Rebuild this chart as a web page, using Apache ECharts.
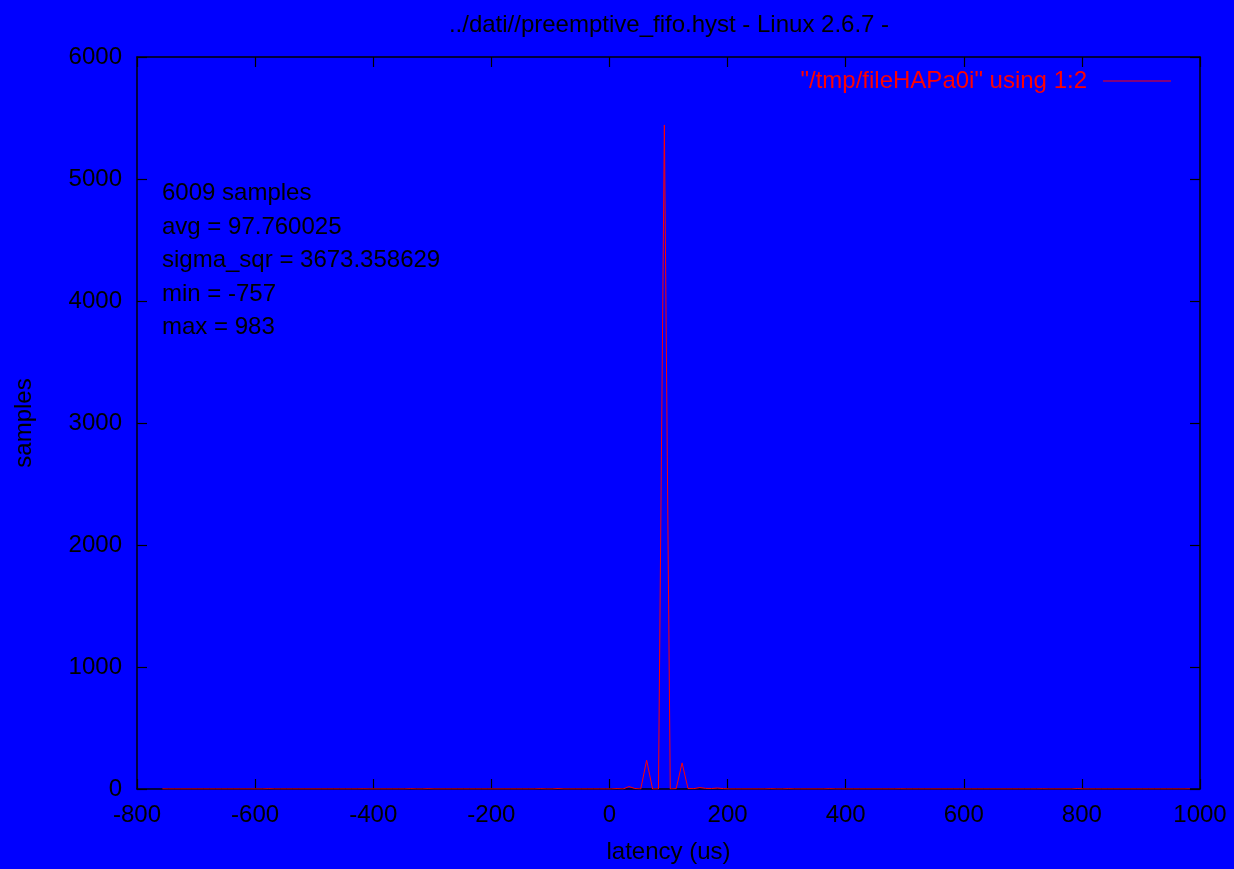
<!DOCTYPE html>
<html>
<head>
<meta charset="utf-8">
<script src="https://cdn.jsdelivr.net/npm/echarts@6/dist/echarts.min.js"></script>
<style>
html,body{margin:0;padding:0;background:#0000ff;}
#chart{width:1234px;height:869px;}
</style>
</head>
<body>
<div id="chart"></div>
<script>
const chartTitle = '../dati//preemptive_fifo.hyst - Linux 2.6.7 -';
const seriesName = '"/tmp/fileHAPa0i" using 1:2';
const statLines = ['6009 samples', 'avg = 97.760025', 'sigma_sqr = 3673.358629', 'min = -757', 'max = 983'];
const xLabel = 'latency (us)';
const yLabel = 'samples';

const latency = [
-757,-747,-737,-727,-717,-707,-697,-687,-677,-667,
-657,-647,-637,-627,-617,-607,-597,-587,-577,-567,
-557,-547,-537,-527,-517,-507,-497,-487,-477,-467,
-457,-447,-437,-427,-417,-407,-397,-387,-377,-367,
-357,-347,-337,-327,-317,-307,-297,-287,-277,-267,
-257,-247,-237,-227,-217,-207,-197,-187,-177,-167,
-157,-147,-137,-127,-117,-107,-97,-87,-77,-67,
-57,-47,-37,-27,-17,-7,3,13,23,33,
43,53,63,73,83,93,103,113,123,133,
143,153,163,173,183,193,203,213,223,233,
243,253,263,273,283,293,303,313,323,333,
343,353,363,373,383,393,403,413,423,433,
443,453,463,473,483,493,503,513,523,533,
543,553,563,573,583,593,603,613,623,633,
643,653,663,673,683,693,703,713,723,733,
743,753,763,773,783,793,803,813,823,833,
843,853,863,873,883,893,903,913,923,933,
943,953,963,973,983
];
const samples = [
1,0,0,0,0,0,0,0,0,0,
0,0,0,0,0,0,0,0,2,0,
0,0,0,0,0,0,0,0,0,0,
0,0,0,0,1,0,0,0,0,0,
0,0,2,0,0,2,0,0,0,0,
0,0,0,0,0,0,0,0,0,0,
0,0,0,0,2,0,0,3,0,0,
0,0,0,0,0,0,0,3,0,20,
4,0,236,0,0,5443,0,3,214,4,
3,12,5,4,8,3,0,0,0,0,
0,0,0,2,0,0,2,0,0,0,
0,0,0,2,0,0,0,0,0,0,
0,0,0,0,0,1,0,0,0,0,
0,0,0,0,0,0,0,0,0,0,
0,0,0,0,0,0,0,0,0,1,
0,0,0,0,0,3,0,0,0,0,
0,0,0,0,0,0,0,0,0,0,
0,0,0,0,1
];
const xTicks = {min: -800, max: 1000, interval: 200};
const yTicks = {min: 0, max: 6000, interval: 1000};

const FONT = '"Liberation Sans", Arial, sans-serif';
const FS = 24;
const chart = echarts.init(document.getElementById('chart'), null, {renderer: 'canvas'});

const axisCommon = {
  axisLine: {show: true, onZero: false, lineStyle: {color: '#000', width: 1.5}},
  axisTick: {show: true, inside: true, length: 10, lineStyle: {color: '#000', width: 1.2}},
  splitLine: {show: false},
  minorTick: {show: false}
};
const plain = v => String(v);

chart.setOption({
  backgroundColor: '#0000ff',
  animation: false,
  textStyle: {fontFamily: FONT},
  title: [
    {text: chartTitle, left: 664, top: 8, textAlign: 'center',
     textStyle: {color: '#000', fontSize: FS, fontWeight: 'normal', fontFamily: FONT}},
    {text: statLines.join('\n'), left: 157, top: 172,
     textStyle: {color: '#000', fontSize: FS, fontWeight: 'normal', fontFamily: FONT, lineHeight: 33.4}}
  ],
  legend: {
    right: 58, top: 64, align: 'right', icon: 'rect', itemWidth: 68, itemHeight: 1.2,
    textStyle: {color: '#ff0000', fontSize: FS, fontFamily: FONT, padding: [0, 11, 0, 0]},
    data: [seriesName]
  },
  grid: {left: 137, top: 57, right: 34, bottom: 76, containLabel: false},
  xAxis: [
    Object.assign({type: 'value', position: 'bottom', min: xTicks.min, max: xTicks.max, interval: xTicks.interval,
      name: xLabel, nameLocation: 'middle', nameGap: 51,
      nameTextStyle: {color: '#000', fontSize: FS, fontFamily: FONT},
      axisLabel: {color: '#000', fontSize: FS, fontFamily: FONT, margin: 14, formatter: plain}}, axisCommon),
    Object.assign({type: 'value', position: 'top', min: xTicks.min, max: xTicks.max, interval: xTicks.interval,
      axisLabel: {show: false}}, axisCommon)
  ],
  yAxis: [
    Object.assign({type: 'value', position: 'left', min: yTicks.min, max: yTicks.max, interval: yTicks.interval,
      name: yLabel, nameLocation: 'middle', nameGap: 101, nameRotate: 90,
      nameTextStyle: {color: '#000', fontSize: FS, fontFamily: FONT},
      axisLabel: {color: '#000', fontSize: FS, fontFamily: FONT, margin: 15, formatter: plain}}, axisCommon),
    Object.assign({type: 'value', position: 'right', min: yTicks.min, max: yTicks.max, interval: yTicks.interval,
      axisLabel: {show: false}}, axisCommon)
  ],
  series: [{
    name: seriesName,
    type: 'line',
    xAxisIndex: 0, yAxisIndex: 0,
    showSymbol: false, symbol: 'none',
    lineStyle: {color: '#ff0000', width: 1},
    itemStyle: {color: '#ff0000'},
    data: latency.map((x, i) => [x, samples[i]])
  }]
});
</script>
</body>
</html>
